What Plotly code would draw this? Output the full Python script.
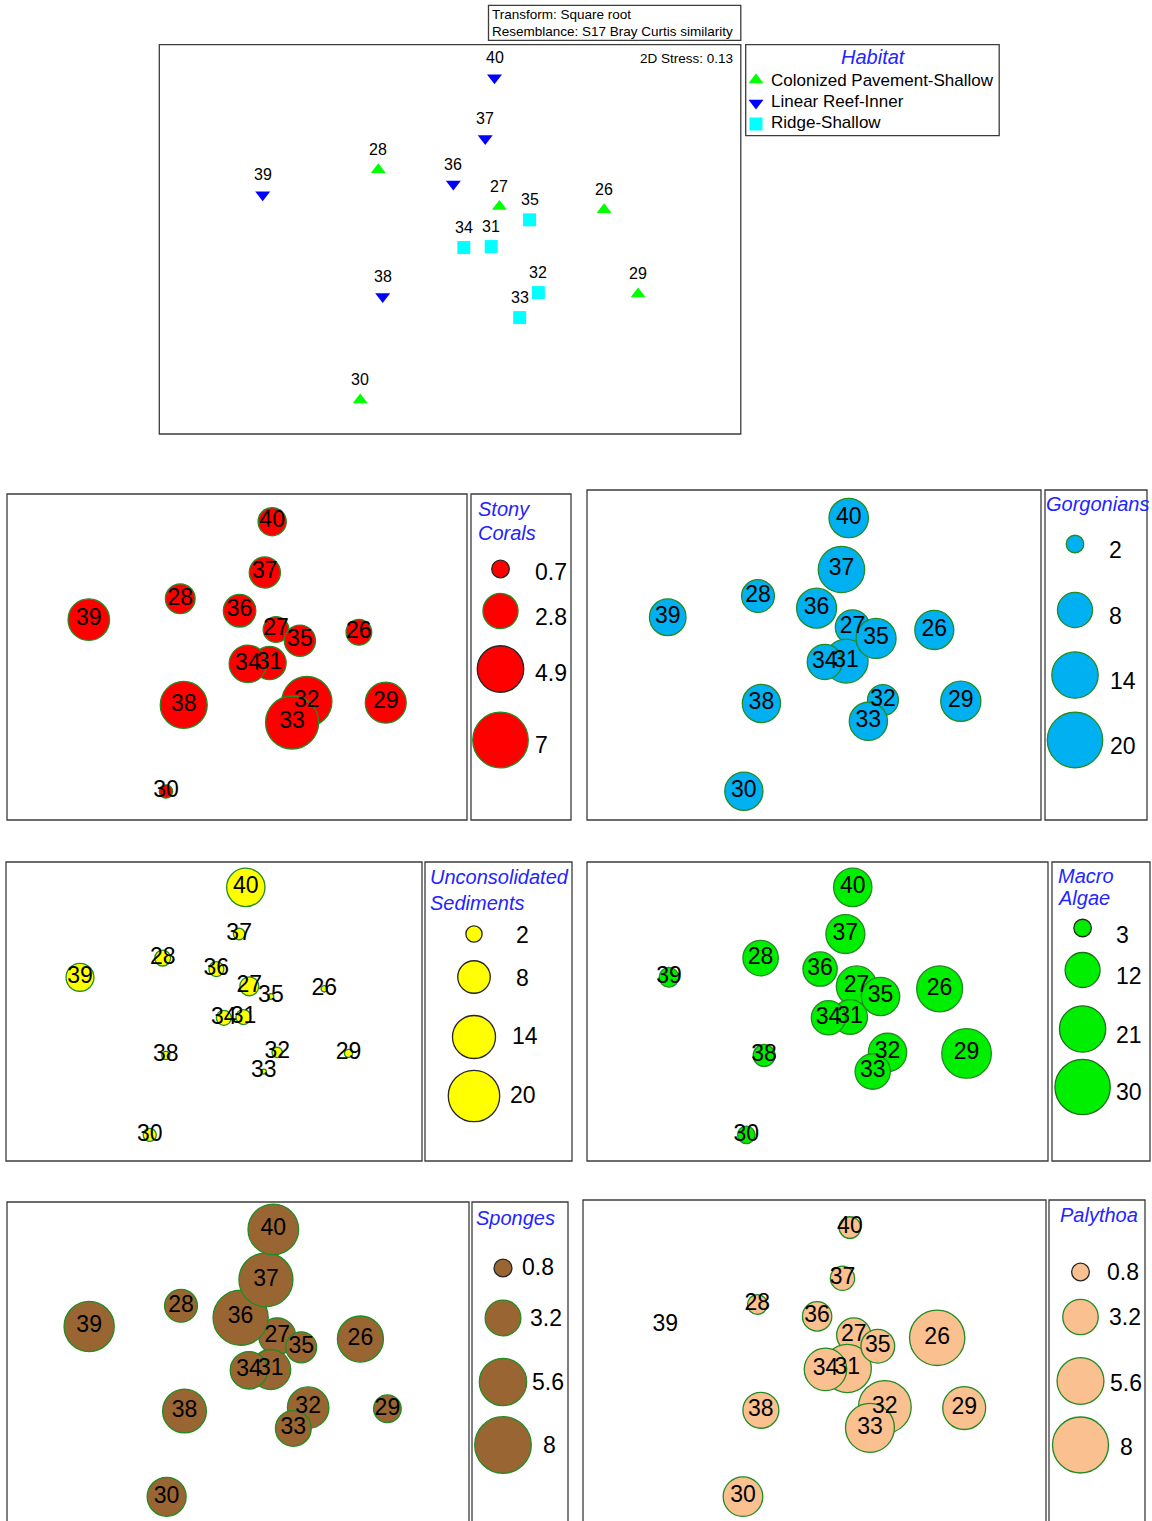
import numpy as np
import plotly.graph_objects as go

W, H = 1152, 1521
FONT = "Arial, Liberation Sans, sans-serif"
OUTLINE = "#228b22"
DARK = "#262626"
FRAME = "#3c3c3c"
TITLE_BLUE = "#2424ff"

# ---- data -----------------------------------------------------------------
sites = ["26", "27", "28", "29", "30", "31", "32", "33", "34", "35",
         "36", "37", "38", "39", "40"]
habitat = (["Colonized Pavement-Shallow"] * 5 + ["Ridge-Shallow"] * 5
           + ["Linear Reef-Inner"] * 5)

# nMDS ordination coordinates
nmds1 = [1.542, 0.494, -0.718, 1.882, -0.899, 0.412, 0.884, 0.697, 0.138, 0.796,
         0.033, 0.352, -0.674, -1.875, 0.445]
nmds2 = [0.400, 0.433, 0.800, -0.440, -1.500, 0.033, -0.427, -0.677, 0.023, 0.300,
         0.657, 1.113, -0.467, 0.550, 1.720]

# percent cover per site (bubble overlays)
stony_corals = [1.5, 1.5, 2.0, 3.8, 0.4, 2.5, 5.7, 6.4, 3.2, 2.2, 2.4, 2.2, 5.0, 3.9, 1.8]
gorgonians = [9.9, 7.7, 7.0, 10.5, 9.5, 12.5, 6.2, 9.5, 8.0, 10.4, 10.4, 14.0, 9.5, 8.7, 10.1]
unconsolidated = [0.3, 2.7, 1.9, 0.5, 1.3, 1.7, 0.8, 0.2, 1.7, 0.25, 1.7, 1.0, 0.5, 5.9, 11.1]
macro_algae = [20.7, 16.2, 12.3, 24.1, 3.0, 11.8, 14.4, 12.2, 11.5, 14.4, 11.5, 14.9, 4.7, 3.8, 14.4]
sponges = [5.3, 3.4, 2.7, 1.9, 3.8, 4.0, 4.3, 3.2, 3.5, 2.4, 7.6, 7.3, 4.8, 6.3, 6.4]
palythoa = [7.8, 3.0, 1.0, 4.7, 4.0, 5.9, 7.1, 6.1, 4.6, 2.9, 2.2, 1.5, 3.3, 0.0, 1.2]

# bubble legend keys
key_stony = [0.7, 2.8, 4.9, 7]
key_gorgonians = [2, 8, 14, 20]
key_unconsolidated = [2, 8, 14, 20]
key_macro = [3, 12, 21, 30]
key_sponges = [0.8, 3.2, 5.6, 8]
key_palythoa = [0.8, 3.2, 5.6, 8]
key_labels = {
    "stony": ["0.7", "2.8", "4.9", "7"],
    "gorg": ["2", "8", "14", "20"],
    "uncons": ["2", "8", "14", "20"],
    "macro": ["3", "12", "21", "30"],
    "sponges": ["0.8", "3.2", "5.6", "8"],
    "palythoa": ["0.8", "3.2", "5.6", "8"],
}

X_RANGE = [-2.91, 2.91]
Y_RANGE = [-1.84, 2.05]

fig = go.Figure()
layout = dict(width=W, height=H, margin=dict(l=0, r=0, t=0, b=0), autosize=False,
              paper_bgcolor="white", plot_bgcolor="rgba(0,0,0,0)", showlegend=False)
shapes, annotations = [], []


def fx(x):
    return x / W


def fy(y):
    return 1 - y / H


def add_axes(n, box):
    x0, y0, x1, y1 = box
    yc = min(y1, H)
    ymin = Y_RANGE[1] - (yc - y0) / (y1 - y0) * (Y_RANGE[1] - Y_RANGE[0])
    sfx = "" if n == 1 else str(n)
    layout["xaxis" + sfx] = dict(domain=[fx(x0), fx(x1)], range=X_RANGE, visible=False,
                                 anchor="y" + sfx, fixedrange=True)
    layout["yaxis" + sfx] = dict(domain=[fy(yc), fy(y0)], range=[ymin, Y_RANGE[1]],
                                 visible=False, anchor="x" + sfx, fixedrange=True)
    return "x" + sfx, "y" + sfx


def frame(box, width=1.3):
    x0, y0, x1, y1 = box
    shapes.append(dict(type="rect", xref="paper", yref="paper", x0=fx(x0), x1=fx(x1),
                       y0=fy(y1), y1=fy(y0), line=dict(color=FRAME, width=width),
                       fillcolor="rgba(0,0,0,0)", layer="above"))


def text(x, y, s, size, color="black", anchor="left", italic=False):
    annotations.append(dict(xref="paper", yref="paper", x=fx(x), y=fy(y),
                            text=f"<i>{s}</i>" if italic else s, showarrow=False,
                            xanchor=anchor, yanchor="middle",
                            font=dict(family=FONT, size=size, color=color)))


# ---- overlay axis in pixel units for keys / legend symbols ------------------
layout["xaxis8"] = dict(domain=[0, 1], range=[0, W], visible=False, anchor="y8", fixedrange=True)
layout["yaxis8"] = dict(domain=[0, 1], range=[H, 0], visible=False, anchor="x8", fixedrange=True)

# ---- nMDS ordination ---------------------------------------------------------
mds_box = (159.3, 44.7, 740.8, 434)
xa, ya = add_axes(1, mds_box)
frame(mds_box)
frame((488.5, 5.3, 740.8, 40.3))
text(490, 14.5, "Transform: Square root", 13.5)
text(490, 31.5, "Resemblance: S17 Bray Curtis similarity", 13.5)
text(735, 58, "2D Stress: 0.13", 13.5, anchor="right")

groups = [("Colonized Pavement-Shallow", "triangle-up", "#00ff00"),
          ("Linear Reef-Inner", "triangle-down", "#0000ff"),
          ("Ridge-Shallow", "square", "#00ffff")]
for name, sym, col in groups:
    idx = [i for i, h in enumerate(habitat) if h == name]
    fig.add_trace(go.Scatter(x=[nmds1[i] for i in idx], y=[nmds2[i] for i in idx],
                             mode="markers", xaxis=xa, yaxis=ya, cliponaxis=False,
                             marker=dict(symbol=sym, size=13, color=col, opacity=1,
                                         line=dict(width=0))))
for i, s in enumerate(sites):
    annotations.append(dict(x=nmds1[i], y=nmds2[i], xref=xa, yref=ya, text=s,
                            showarrow=False, yshift=20,
                            font=dict(family=FONT, size=16, color="black")))

# habitat legend
frame((745.7, 44.7, 999.2, 135.7))
text(873, 57, "Habitat", 20, color=TITLE_BLUE, anchor="center", italic=True)
leg_rows = [80, 101.5, 123]
fig.add_trace(go.Scatter(x=[756, 756, 756], y=[80, 103, 124], mode="markers",
                         xaxis="x8", yaxis="y8", cliponaxis=False,
                         marker=dict(symbol=[g[1] for g in groups], size=13, opacity=1,
                                     color=[g[2] for g in groups], line=dict(width=0))))
for (name, _, _), yy in zip(groups, leg_rows):
    text(769, yy, name, 17)

# ---- bubble overlays ---------------------------------------------------------
G = OUTLINE
panels = [
    dict(key="stony", n=2, box=(7, 494, 467, 820), leg=(471, 494, 571, 820),
         fill="#ff0000", vals=stony_corals, keys=key_stony, k=21.0,
         titles=[("Stony", 476, 509), ("Corals", 476, 533)],
         cx=500.5, cy=[569, 611, 669, 740], lx=[533, 533, 533, 533],
         ly=[572, 617, 673, 745], lcol=[DARK, G, DARK, G]),
    dict(key="gorg", n=3, box=(587, 490, 1041, 820), leg=(1045, 490, 1147, 820),
         fill="#00b0f0", vals=gorgonians, keys=key_gorgonians, k=12.4,
         titles=[("Gorgonians", 1044, 504)],
         cx=1075, cy=[544, 610, 675, 740], lx=[1107, 1107, 1108, 1108],
         ly=[550, 616, 681, 746], lcol=[G, G, G, G]),
    dict(key="uncons", n=4, box=(6, 862, 422, 1161), leg=(425, 862, 572, 1161),
         fill="#ffff00", vals=unconsolidated, keys=key_unconsolidated, k=11.5,
         titles=[("Unconsolidated", 428, 876.5), ("Sediments", 428, 903)],
         cx=474, cy=[934, 977, 1037, 1096], lx=[514, 514, 510, 508],
         ly=[935, 978, 1036, 1095], lcol=[DARK, DARK, DARK, DARK]),
    dict(key="macro", n=5, box=(587, 862, 1048, 1161), leg=(1052, 862, 1150, 1161),
         fill="#00ee00", vals=macro_algae, keys=key_macro, k=10.1,
         titles=[("Macro", 1055.5, 876), ("Algae", 1055.5, 898)],
         cx=1082.6, cy=[928, 970, 1029, 1087], lx=[1114, 1114, 1114, 1114],
         ly=[935, 976, 1035, 1092], lcol=[DARK, "#1f6f1f", "#1f6f1f", "#1f6f1f"]),
    dict(key="sponges", n=6, box=(7, 1202, 469, 1525), leg=(472, 1202, 568, 1525),
         fill="#996633", vals=sponges, keys=key_sponges, k=20.0,
         titles=[("Sponges", 474, 1218)],
         cx=503, cy=[1268, 1318, 1382, 1445], lx=[520, 528, 530, 541],
         ly=[1267, 1318, 1382, 1445], lcol=[DARK, G, G, G]),
    dict(key="palythoa", n=7, box=(583, 1200, 1046, 1525), leg=(1049, 1200, 1145, 1525),
         fill="#fac090", vals=palythoa, keys=key_palythoa, k=19.8,
         titles=[("Palythoa", 1058, 1215)],
         cx=1080.5, cy=[1272, 1317, 1381, 1445], lx=[1105, 1107, 1108, 1118],
         ly=[1272, 1317, 1383, 1447], lcol=[DARK, G, G, G]),
]

for p in panels:
    xa, ya = add_axes(p["n"], p["box"])
    frame(p["box"])
    frame(p["leg"])
    sizes = p["k"] * np.sqrt(np.array(p["vals"], dtype=float))
    # bubbles in site order so later sites sit on top of earlier ones
    fig.add_trace(go.Scatter(x=nmds1, y=nmds2, mode="markers", xaxis=xa, yaxis=ya,
                             cliponaxis=False,
                             marker=dict(size=sizes, color=p["fill"], opacity=1,
                                         line=dict(color=OUTLINE, width=1.3))))
    fig.add_trace(go.Scatter(x=nmds1, y=nmds2, mode="text", text=sites, xaxis=xa, yaxis=ya,
                             cliponaxis=False, textposition="middle center",
                             textfont=dict(family=FONT, size=23, color="black")))
    # size key
    ksizes = p["k"] * np.sqrt(np.array(p["keys"], dtype=float))
    fig.add_trace(go.Scatter(x=[p["cx"]] * len(p["keys"]), y=p["cy"], mode="markers",
                             xaxis="x8", yaxis="y8", cliponaxis=False,
                             marker=dict(size=ksizes, color=p["fill"], opacity=1,
                                         line=dict(color=p["lcol"], width=1.3))))
    for lab, x, y in zip(key_labels[p["key"]], p["lx"], p["ly"]):
        text(x, y, lab, 23)
    for t, x, y in p["titles"]:
        text(x, y, t, 20, color=TITLE_BLUE, italic=True)

layout["shapes"] = shapes
layout["annotations"] = annotations
fig.update_layout(**layout)
fig.write_html("out.html")
